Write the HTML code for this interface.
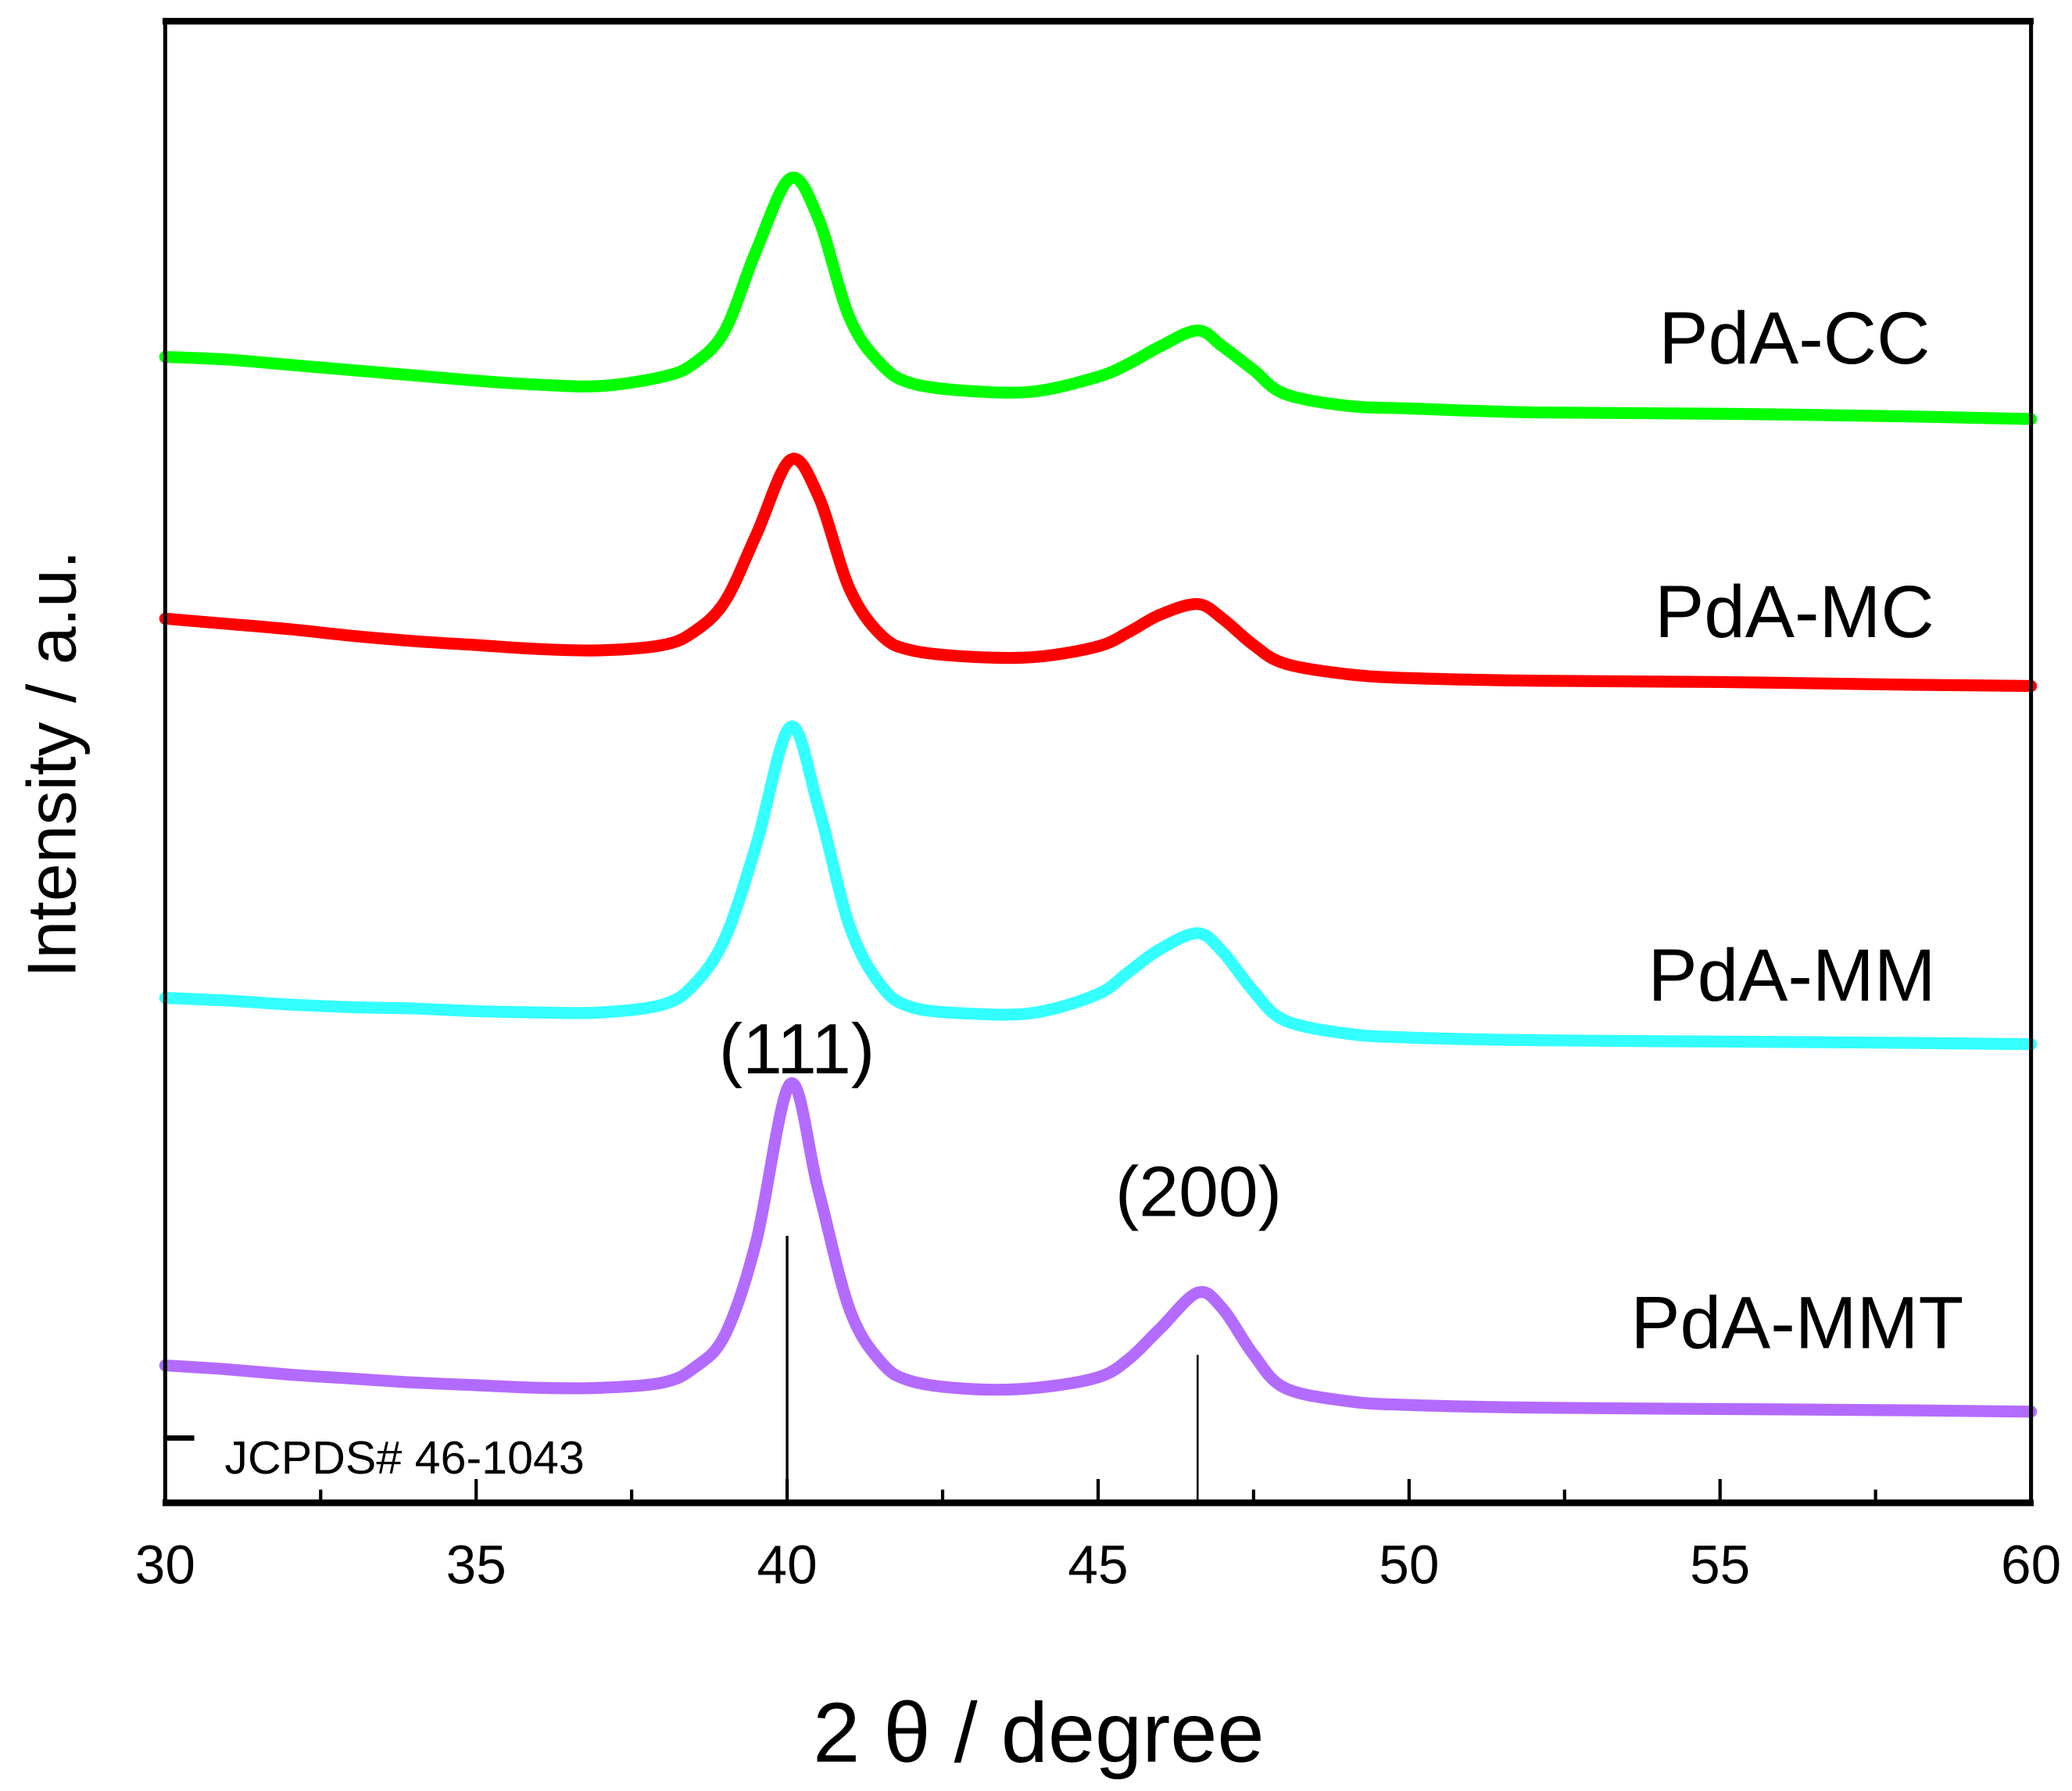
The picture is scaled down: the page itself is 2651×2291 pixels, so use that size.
<!DOCTYPE html>
<html><head><meta charset="utf-8"><style>html,body{margin:0;padding:0;background:#fff}svg{display:block}text{font-family:"Liberation Sans",Arial,sans-serif;fill:#000}</style></head>
<body>
<svg id="chart" width="2651" height="2291" viewBox="0 0 1568 1355" xmlns="http://www.w3.org/2000/svg">
<g id="series"></g>
<g id="axes"></g>
<g id="labels"></g>
</svg>
<script>
const xs=[30,31,32,33,34,35,36,37,38,38.5,39,39.5,40.05,40.5,41,41.5,42,43,44,45,45.5,46,46.6,47,47.5,48,49,50,52,55,58,60];
const cc=[867,865,861,857,853,849,846,845,852,862,887,947,1002,972,897,862,847,841,841,852,862,875,887,875,857,839,830,828,825,824,822,820];
const mc=[669,665,661,656,652,649,646,645,649,659,682,732,789,762,692,657,645,640,640,648,659,672,680,669,649,635,627,624,622,621,619,618];
const mm=[382,380,377,375,374,372,371,371,377,392,427,497,587,527,437,392,375,370,371,385,402,419,431,417,387,365,355,352,350,349,348,347];
const mmt=[104,101,97,94,91,89,87,87,91,102,127,197,317,237,147,107,92,86,87,95,109,132,159,147,112,87,77,74,72,71,70,69];
const seriesNames=["PdA-CC","PdA-MC","PdA-MM","PdA-MMT"];
const seriesColors=["#00ff00","#ff0000","#33ffff","#b36bff"];
const xTicks=[30,35,40,45,50,55,60];
const xMinor=[32.5,37.5,42.5,47.5,52.5,57.5];
const refPeaks=[40.0,46.6];
const refHeights=[202,112];
const L=125,R=1537,T=16,B=1137;
const X=v=>L+(v-30)/30*(R-L);
const Y=v=>B-v;
const NS="http://www.w3.org/2000/svg";
function mk(tag,attrs,parent){const e=document.createElementNS(NS,tag);for(const k in attrs)e.setAttribute(k,attrs[k]);parent.appendChild(e);return e;}
function smooth(P){
  let d='M'+P[0][0].toFixed(1)+','+P[0][1].toFixed(1);
  for(let i=0;i<P.length-1;i++){
    const p0=P[Math.max(0,i-1)],p1=P[i],p2=P[i+1],p3=P[Math.min(P.length-1,i+2)];
    const c1=[p1[0]+(p2[0]-p0[0])/6,p1[1]+(p2[1]-p0[1])/6];
    const c2=[p2[0]-(p3[0]-p1[0])/6,p2[1]-(p3[1]-p1[1])/6];
    d+=' C'+c1.map(v=>v.toFixed(1)).join(',')+' '+c2.map(v=>v.toFixed(1)).join(',')+' '+p2.map(v=>v.toFixed(1)).join(',');
  }
  return d;
}
const sg=document.getElementById('series');
const ag=document.getElementById('axes');
const lg=document.getElementById('labels');
[cc,mc,mm,mmt].forEach((arr,i)=>{
  const P=arr.map((v,j)=>[X(xs[j]),Y(v)]);
  const p=mk('path',{d:smooth(P),fill:'none',stroke:seriesColors[i],'stroke-width':9,'stroke-linejoin':'round','stroke-linecap':'round'},sg);
  
  
});
refPeaks.forEach((v,i)=>{
  const l=mk('line',{x1:X(v),x2:X(v),y1:B,y2:B-refHeights[i],stroke:'#000','stroke-width':i==0?2:1.5},ag);
  
  
});
const ref=mk('line',{x1:L,x2:147,y1:1088,y2:1088,stroke:'#000','stroke-width':4},ag);


xTicks.forEach(v=>{
  const t=mk('line',{x1:X(v),x2:X(v),y1:B,y2:B-18,stroke:'#000','stroke-width':2.5},ag);
  
  
  const tx=mk('text',{x:X(v),y:1198,'text-anchor':'middle','font-size':41},lg);
  tx.textContent=v;
  
  
});
xMinor.forEach(v=>{
  const t=mk('line',{x1:X(v),x2:X(v),y1:B,y2:B-10,stroke:'#000','stroke-width':2.5},ag);
  
  
});
const fr=mk('rect',{x:L,y:T,width:R-L,height:B-T,fill:'none',stroke:'#000','stroke-width':3},ag);


const bl=mk('line',{x1:L-2,x2:R+2,y1:B,y2:B,stroke:'#000','stroke-width':5},ag);


const tl=mk('line',{x1:L-2,x2:R+2,y1:T,y2:T,stroke:'#000','stroke-width':5},ag);


const labelPos=[[1358,275],[1358,482],[1356,757],[1360,1020]];
seriesNames.forEach((n,i)=>{
  const t=mk('text',{x:labelPos[i][0],y:labelPos[i][1],'text-anchor':'middle','font-size':56},lg);
  t.textContent=n;
  
  
});
[["(111)",603,812],["(200)",907,920]].forEach(a=>{
  const t=mk('text',{x:a[1],y:a[2],'text-anchor':'middle','font-size':54},lg);
  t.textContent=a[0];
  
  
});
const j=mk('text',{x:170,y:1115,'font-size':35},lg);
j.textContent='JCPDS# 46-1043';


const xt=mk('text',{x:786,y:1333,'text-anchor':'middle','font-size':64},lg);
xt.textContent='2 θ / degree';


const yt=mk('text',{x:0,y:0,'text-anchor':'middle','font-size':52,transform:'translate(57,578) rotate(-90)'},lg);
yt.textContent='Intensity / a.u.';


</script>
</body></html>
